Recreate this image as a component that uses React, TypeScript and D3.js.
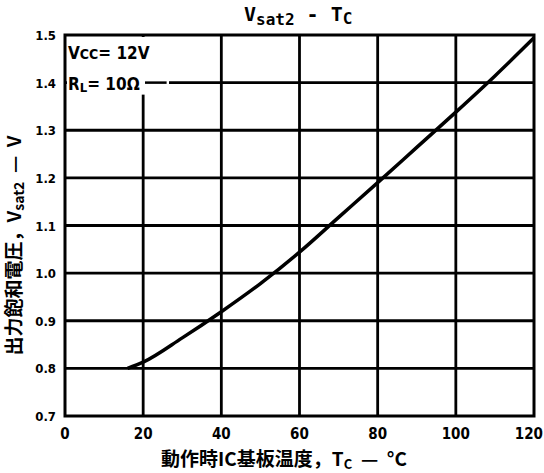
import React from 'react';
import * as d3 from 'd3';

// case temperature (°C) vs output saturation voltage (V)
const tempC = [16, 20, 30, 40, 50, 60, 70, 80, 90, 100, 110, 120];
const vsat = [0.8, 0.813, 0.864, 0.919, 0.978, 1.044, 1.117, 1.19, 1.264, 1.338, 1.414, 1.494];

const xTicks = [0, 20, 40, 60, 80, 100, 120];
const yTicks = [0.7, 0.8, 0.9, 1.0, 1.1, 1.2, 1.3, 1.4, 1.5];

const W = 544;
const H = 473;
const margin = { top: 35, right: 10, bottom: 57, left: 65 };

const App = () => {
  const x = d3.scaleLinear().domain([0, 120]).range([margin.left, W - margin.right]);
  const y = d3.scaleLinear().domain([0.7, 1.5]).range([H - margin.bottom, margin.top]);

  const line = d3.line<number>()
    .x((d, i) => x(tempC[i]))
    .y(d => y(d))
    .curve(d3.curveMonotoneX);

  const tickFont = "'DejaVu Sans Condensed', 'DejaVu Sans', sans-serif";
  const cjk = "'Noto Sans CJK JP', sans-serif";
  const pre = { whiteSpace: 'pre' as const };

  return (
    <div style={{ position: 'absolute', left: 0, top: 0, background: 'white' }}>
      <svg width={W} height={H} style={{ display: 'block' }}>
        <rect x={0} y={0} width={W} height={H} fill="white" />

        {/* grid */}
        {xTicks.slice(1, -1).map(t => (
          <line key={'gx' + t} x1={x(t)} x2={x(t)} y1={y(1.5)} y2={y(0.7)}
            stroke="black" strokeWidth={2.8} />
        ))}
        {yTicks.slice(1, -1).map(t => (
          <line key={'gy' + t} x1={x(0)} x2={x(120)} y1={y(t)} y2={y(t)}
            stroke="black" strokeWidth={2.8} />
        ))}

        {/* annotation box */}
        <rect x={x(0) + 2} y={y(1.5) + 2} width={102} height={y(1.4) - y(1.5) + 10} fill="white" />
        <line x1={x(0) + 80} x2={x(26)} y1={y(1.4)} y2={y(1.4)} stroke="black" strokeWidth={2.5} />
        <text x={x(0) + 3} y={y(1.5) + 24} fontFamily={tickFont} fontWeight="bold" fontSize={17}>
          V<tspan fontSize={14}>CC</tspan>= 12V
        </text>
        <text x={x(0) + 3} y={y(1.4) + 7} fontFamily={tickFont} fontWeight="bold" fontSize={17} fill="black"
          stroke="white" strokeWidth={4} paintOrder="stroke">
          R<tspan fontSize={13} dy={2}>L</tspan><tspan dy={-2}>= 10Ω</tspan>
        </text>

        {/* frame */}
        <rect x={x(0)} y={y(1.5)} width={x(120) - x(0)} height={y(0.7) - y(1.5)}
          fill="none" stroke="black" strokeWidth={3} />

        {/* curve */}
        <path d={line(vsat) || ''} fill="none" stroke="black" strokeWidth={3.5} />

        {/* tick labels */}
        {xTicks.map((t, i) => {
          const last = i === xTicks.length - 1;
          return (
            <text key={'xl' + t} x={last ? W - 1 : x(t)} y={y(0.7) + 23} textAnchor={last ? 'end' : 'middle'}
              fontFamily={tickFont} fontWeight="bold" fontSize={15}>{t}</text>
          );
        })}
        {yTicks.map(t => (
          <text key={'yl' + t} x={x(0) - 9} y={y(t) + 5} textAnchor="end"
            fontFamily={tickFont} fontWeight="bold" fontSize={13}>{t.toFixed(1)}</text>
        ))}

        {/* title */}
        <text x={244} y={21} fontFamily="'DejaVu Sans Mono', monospace" fontWeight="bold" fontSize={20}>
          V<tspan fontSize={16} dy={4}>sat2</tspan><tspan dy={-4}> - T</tspan><tspan fontSize={16} dy={3}>C</tspan>
        </text>

        {/* axis titles */}
        <text x={284} y={466} textAnchor="middle" fontFamily={cjk} fontWeight="bold" fontSize={19} style={pre}>
          動作時IC基板温度，T<tspan fontSize={13} dy={3}>C</tspan><tspan dy={-3}>{'  —  °C'}</tspan>
        </text>
        <text transform={`translate(21,${(y(1.5) + y(0.7)) / 2 + 20}) rotate(-90)`} textAnchor="middle"
          fontFamily={cjk} fontWeight="bold" fontSize={19} style={pre}>
          出力飽和電圧，V<tspan fontSize={14} dy={3}>sat2</tspan><tspan dy={-3}>{'  —  V'}</tspan>
        </text>
      </svg>
    </div>
  );
};

export default App;
